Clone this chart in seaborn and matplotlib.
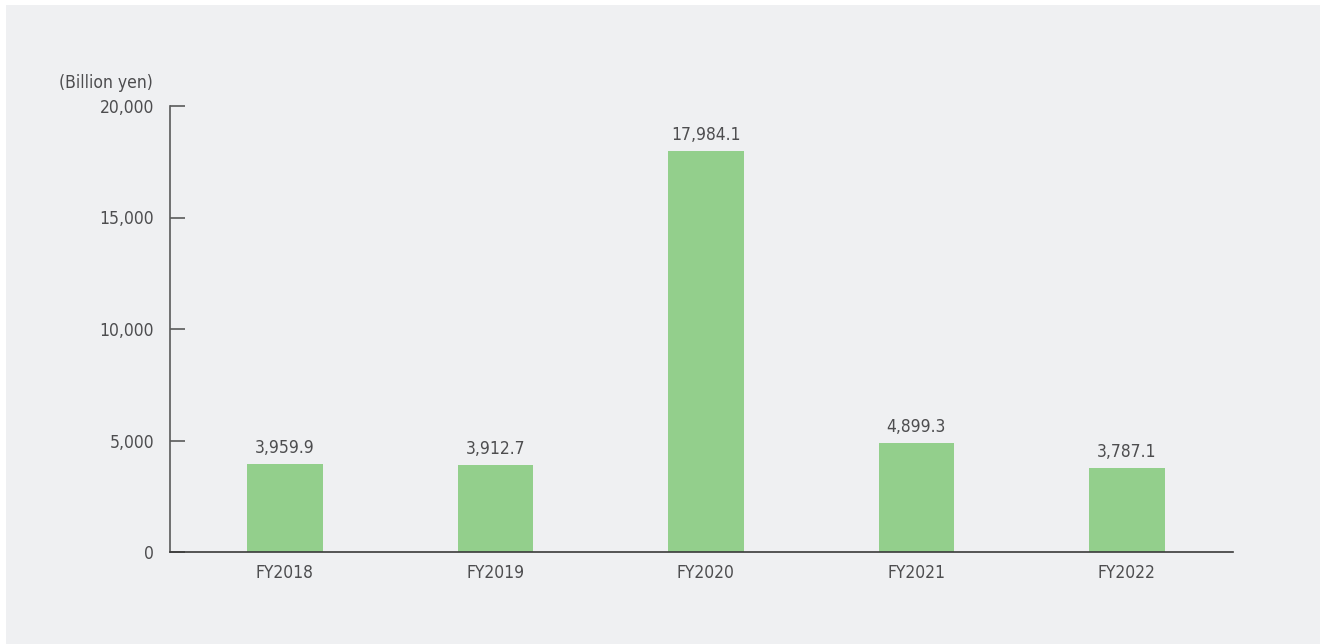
import matplotlib
matplotlib.use("Agg")
import matplotlib.pyplot as plt
import seaborn as sns
import pandas as pd
from matplotlib.patches import Rectangle
from matplotlib.ticker import FuncFormatter

categories = ["FY2018", "FY2019", "FY2020", "FY2021", "FY2022"]
values = [3959.9, 3912.7, 17984.1, 4899.3, 3787.1]
value_labels = ["3,959.9", "3,912.7", "17,984.1", "4,899.3", "3,787.1"]
yticks = [0, 5000, 10000, 15000, 20000]
unit_label = "(Billion yen)"

sns.set_theme(style="white")
plt.rcParams["font.family"] = ["DejaVu Sans"]
plt.rcParams["font.stretch"] = "condensed"

BG = "#eff0f2"
TXT = "#4d4d4f"
BAR = "#93cf8c"

W, H = 1320, 644
fig = plt.figure(figsize=(W / 100, H / 100), dpi=100, facecolor="white")
fig.patches.append(Rectangle((6 / W, 0), 1 - 6 / W, 1 - 5 / H, transform=fig.transFigure,
                             facecolor=BG, edgecolor="none", zorder=-10))

x0, x1 = 170, 1233
y0, y1 = 552, 106
ax = fig.add_axes([x0 / W, 1 - y0 / H, (x1 - x0) / W, (y0 - y1) / H])
ax.set_facecolor("none")

df = pd.DataFrame({"cat": categories, "val": values})
sns.barplot(data=df, x="cat", y="val", color=BAR, width=0.36, saturation=1,
            edgecolor="none", linewidth=0, ax=ax)

ax.set_xlim(-0.546, 4.504)
ax.set_ylim(0, 20000)
ax.set_yticks(yticks)
ax.yaxis.set_major_formatter(FuncFormatter(lambda v, p: f"{int(v):,}"))
ax.set_xlabel("")
ax.set_ylabel("")

for s in ["top", "right"]:
    ax.spines[s].set_visible(False)
ax.spines["left"].set_color("#5a5a5a")
ax.spines["left"].set_linewidth(1.2)
ax.spines["bottom"].set_color("#3a3a3a")
ax.spines["bottom"].set_linewidth(1.2)

ax.tick_params(axis="y", left=True, direction="in", length=10.8, width=1.2, color="#5a5a5a",
               labelsize=12.5, labelcolor=TXT, pad=11.5)
ax.tick_params(axis="x", bottom=False, length=0, labelsize=12.5, labelcolor=TXT, pad=9)

for i, (v, lab) in enumerate(zip(values, value_labels)):
    ax.annotate(lab, (i, v), xytext=(0, 5), textcoords="offset points",
                ha="center", va="bottom", fontsize=12.5, color=TXT)

fig.text(153 / W, 1 - 83 / H, unit_label, ha="right", va="center", fontsize=12.5, color=TXT)

fig.savefig("out.png", dpi=100, facecolor="white")
